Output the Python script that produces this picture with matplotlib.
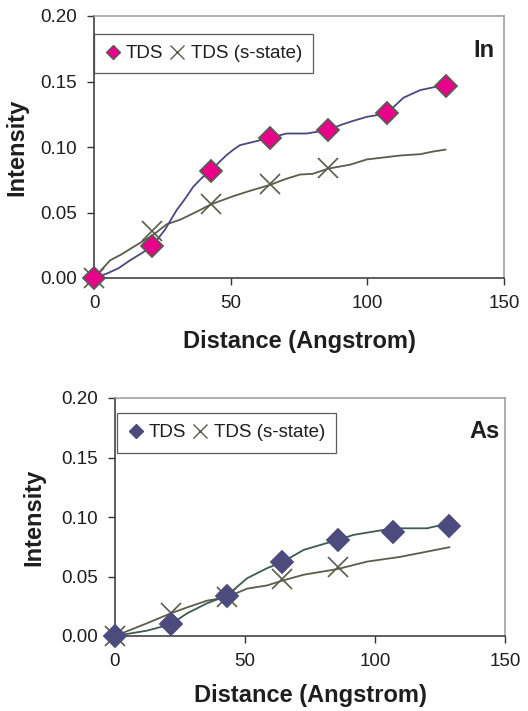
"""Two-panel TDS intensity vs distance plot (In and As)."""

import matplotlib

matplotlib.use("Agg")

import matplotlib.pyplot as plt
from matplotlib.lines import Line2D

plt.rcParams["font.family"] = ["Liberation Sans", "DejaVu Sans"]

# --- In panel ---
in_tds_x = [0, 21.4, 42.9, 64.3, 85.7, 107.1, 128.6]
in_tds_y = [0.0, 0.0245, 0.082, 0.107, 0.113, 0.1256, 0.1467]
in_tds_curve_x = [0, 4.6, 9.0, 13.2, 17.5, 21.4, 26.0, 30.2, 33.5, 36.3, 39.5, 42.9,
                  45.8, 48.5, 51.0, 53.4, 58.5, 64.3, 70.5, 77.8, 85.7, 90.5, 94.9,
                  99.8, 107.1, 113.2, 119.3, 124.0, 128.6]
in_tds_curve_y = [0.0, 0.0033, 0.0075, 0.0135, 0.019, 0.0245, 0.037, 0.0517, 0.061,
                  0.0696, 0.0765, 0.082, 0.0885, 0.0938, 0.098, 0.1014, 0.104, 0.107,
                  0.1103, 0.1103, 0.113, 0.117, 0.120, 0.123, 0.1256, 0.1376, 0.1434,
                  0.1455, 0.1467]
in_s_x = [0, 21.4, 42.9, 64.3, 85.7]
in_s_y = [0.0, 0.0355, 0.0563, 0.072, 0.084]
in_s_curve_x = [0, 5.9, 10.0, 14.4, 21.4, 26.6, 31.5, 37.0, 42.9, 51.0, 57.0, 64.3,
                70.0, 75.4, 80.0, 85.7, 93.7, 99.8, 112.0, 119.3, 124.0, 128.6]
in_s_curve_y = [0.0, 0.0135, 0.018, 0.0237, 0.0325, 0.041, 0.0445, 0.050, 0.0563,
                0.0625, 0.0665, 0.071, 0.0755, 0.079, 0.0795, 0.0835, 0.0865, 0.0905,
                0.0935, 0.0945, 0.0965, 0.098]

# --- As panel ---
as_tds_x = [0, 21.4, 42.9, 64.3, 85.7, 107.1, 128.6]
as_tds_y = [0.0, 0.0098, 0.0337, 0.062, 0.0808, 0.0875, 0.0926]
as_tds_curve_x = [0, 12.3, 21.4, 27.7, 35.4, 42.9, 50.8, 58.5, 64.3, 72.6, 85.7,
                  91.8, 99.5, 107.1, 120.0, 124.0, 128.6]
as_tds_curve_y = [0.0, 0.0045, 0.0098, 0.019, 0.0275, 0.0337, 0.0485, 0.057, 0.062,
                  0.0724, 0.0808, 0.085, 0.0878, 0.0905, 0.0905, 0.0925, 0.0926]
as_s_x = [0, 21.4, 42.9, 64.3, 85.7]
as_s_y = [0.0, 0.019, 0.0325, 0.0477, 0.0583]
as_s_curve_x = [0, 12.3, 21.4, 27.7, 35.4, 42.9, 50.8, 58.5, 64.3, 72.6, 85.7,
                96.9, 109.7, 128.6]
as_s_curve_y = [0.0, 0.0107, 0.019, 0.024, 0.0297, 0.0325, 0.0398, 0.0425, 0.0465,
                0.0515, 0.0563, 0.0625, 0.0665, 0.0746]

LINE_S = "#5b5c4c"
TEXT = "#1e1e1e"


def draw_panel(ax, tds, s_state, tds_line, tds_face, tds_edge, tag, tag_xy,
               legend_anchor, ylabel_x, xlabel_pad):
    (cx, cy, mx, my) = tds
    (scx, scy, sx, sy) = s_state
    ax.plot(scx, scy, color=LINE_S, lw=1.3, zorder=2, clip_on=False)
    ax.plot(cx, cy, color=tds_line, lw=1.3, zorder=2, clip_on=False)
    ax.plot(sx, sy, ls="none", marker="x", ms=14.5, mew=1.2, color=LINE_S,
            zorder=3, clip_on=False)
    ax.plot(mx, my, ls="none", marker="D", ms=10.8, mfc=tds_face, mec=tds_edge,
            mew=1.3, zorder=4, clip_on=False)

    ax.set_xlim(0, 150)
    ax.set_ylim(0, 0.20)
    ax.set_xticks([0, 50, 100, 150])
    ax.set_yticks([0, 0.05, 0.10, 0.15, 0.20])
    ax.set_yticklabels(["0.00", "0.05", "0.10", "0.15", "0.20"])
    ax.tick_params(direction="out", length=5, width=1, labelsize=13.5,
                   colors="#333333", labelcolor=TEXT)
    ax.tick_params(axis="y", pad=7)
    ax.tick_params(axis="x", pad=7)
    for side in ("left", "bottom"):
        ax.spines[side].set_color("#333333")
        ax.spines[side].set_linewidth(1.1)
    for side in ("top", "right"):
        ax.spines[side].set_color("#9a9a9a")
        ax.spines[side].set_linewidth(1.1)

    ax.set_xlabel("Distance (Angstrom)", fontsize=17, fontweight="bold",
                  color=TEXT, labelpad=xlabel_pad)
    ax.set_ylabel("Intensity", fontsize=17, fontweight="bold", color=TEXT)
    ax.yaxis.set_label_coords(ylabel_x, 0.5)
    ax.text(tag_xy[0], tag_xy[1], tag, transform=ax.transAxes, ha="right",
            va="center", fontsize=17, fontweight="bold", color=TEXT)

    handles = [
        Line2D([], [], ls="none", marker="D", ms=7, mfc=tds_face, mec=tds_edge, mew=1.0),
        Line2D([], [], ls="none", marker="x", ms=10, mew=1.0, color=LINE_S),
    ]
    leg = ax.legend(handles, ["TDS", "TDS (s-state)"], loc="upper left",
                    bbox_to_anchor=legend_anchor, ncol=2, fontsize=13.5,
                    frameon=True, fancybox=False, shadow=False, borderaxespad=0,
                    handlelength=0.8, handletextpad=0.3, columnspacing=0.35,
                    borderpad=0.6)
    leg.get_frame().set_edgecolor("#333333")
    leg.get_frame().set_linewidth(0.9)
    for t in leg.get_texts():
        t.set_color(TEXT)


fig = plt.figure(figsize=(5.28, 7.11), dpi=100)
ax_in = fig.add_axes([94 / 528, 1 - 278 / 711, 410 / 528, 262 / 711])
ax_as = fig.add_axes([115 / 528, 1 - 636 / 711, 390 / 528, 238 / 711])

draw_panel(ax_in,
           (in_tds_curve_x, in_tds_curve_y, in_tds_x, in_tds_y),
           (in_s_curve_x, in_s_curve_y, in_s_x, in_s_y),
           "#4a4880", "#e8008a", "#5a5c52", "In", (0.978, 0.87),
           (0.0, 0.932), -0.161, 13)
draw_panel(ax_as,
           (as_tds_curve_x, as_tds_curve_y, as_tds_x, as_tds_y),
           (as_s_curve_x, as_s_curve_y, as_s_x, as_s_y),
           "#3e5a52", "#4d4a7e", "#4d4a7e", "As", (0.987, 0.861),
           (0.005, 0.937), -0.179, 10)

fig.savefig("out.png", dpi=100)
